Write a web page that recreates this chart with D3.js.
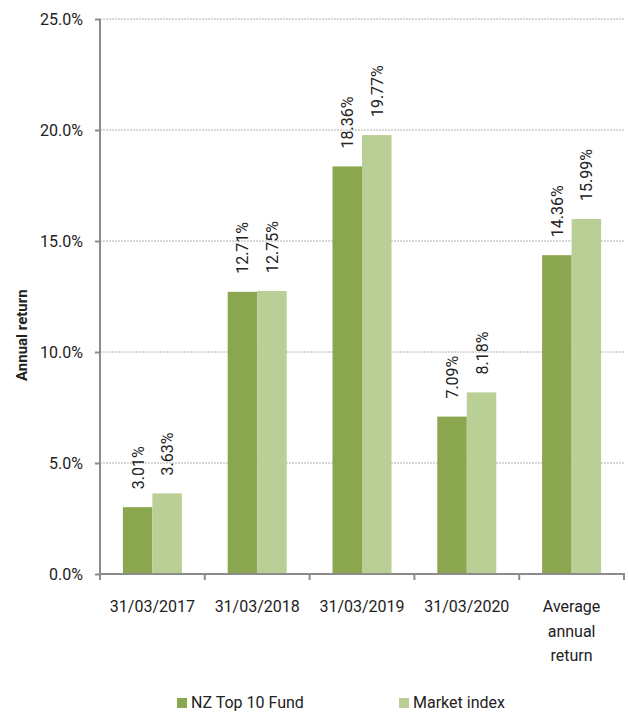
<!DOCTYPE html>
<html>
<head>
<meta charset="utf-8">
<script src="https://cdn.jsdelivr.net/npm/d3@7"></script>
<style>
body{margin:0;background:#fff;}
text{font-family:Roboto,"Noto Sans",sans-serif;fill:#222;}
</style>
</head>
<body>
<div id="chart"></div>
<script>
var categories = ["31/03/2017","31/03/2018","31/03/2019","31/03/2020","Average annual return"];
var catLines = [["31/03/2017"],["31/03/2018"],["31/03/2019"],["31/03/2020"],["Average","annual","return"]];
var seriesNames = ["NZ Top 10 Fund","Market index"];
var fundValues = [3.01,12.71,18.36,7.09,14.36];
var marketValues = [3.63,12.75,19.77,8.18,15.99];
var yTicks = [0,5,10,15,20,25];

var width = 628, height = 712;
var plotLeft = 100, plotRight = 624, plotTop = 19, plotBottom = 574;
var colors = ["#8aa64f","#bacf96"];

var svg = d3.select("#chart").append("svg")
    .attr("width",width)
    .attr("height",height);

var y = d3.scaleLinear().domain([0,25]).range([plotBottom,plotTop]);
var x = d3.scaleBand().domain(categories).range([plotLeft,plotRight]).paddingInner(0.437).paddingOuter(0.2185);
var xs = d3.scaleBand().domain([0,1]).range([0,x.bandwidth()]);

// grid
svg.selectAll("line.grid")
    .data(yTicks.slice(1))
    .enter().append("line")
    .attr("class","grid")
    .attr("x1",plotLeft).attr("x2",plotRight)
    .attr("y1",function(d){return y(d);}).attr("y2",function(d){return y(d);})
    .attr("stroke","#b0b0b0")
    .attr("stroke-width",1)
    .attr("stroke-dasharray","2,1");

// bars
var data = [];
for(var i=0;i<categories.length;i++){
    data.push({cat:categories[i],s:0,v:fundValues[i]});
    data.push({cat:categories[i],s:1,v:marketValues[i]});
}
svg.selectAll("rect.bar")
    .data(data)
    .enter().append("rect")
    .attr("x",function(d){return x(d.cat)+xs(d.s);})
    .attr("y",function(d){return y(d.v);})
    .attr("width",xs.bandwidth())
    .attr("height",function(d){return plotBottom-y(d.v);})
    .attr("fill",function(d){return colors[d.s];});

// value labels
svg.selectAll("text.val")
    .data(data)
    .enter().append("text")
    .attr("transform",function(d){
        var cx = x(d.cat)+xs(d.s)+xs.bandwidth()/2;
        return "translate("+(cx+6)+","+(y(d.v)-18)+") rotate(-90)";
    })
    .attr("font-size","16px")
    .text(function(d){return d.v.toFixed(2)+"%";});

// y axis
var yAxis = d3.axisLeft(y).tickValues(yTicks).tickSize(5).tickFormat(function(d){return d.toFixed(1)+"%";});
var gy = svg.append("g").attr("transform","translate("+plotLeft+",0)").call(yAxis);
gy.select(".domain").attr("stroke","#8c8c8c").attr("stroke-width",2).attr("d","M0,"+plotTop+"V"+plotBottom);
gy.selectAll(".tick line").attr("stroke","#8c8c8c").attr("stroke-width",2);
gy.selectAll(".tick text").attr("font-size","16px").attr("font-family","Roboto").attr("fill","#222").attr("x",-17);

// x axis
svg.append("line")
    .attr("x1",plotLeft-1).attr("x2",plotRight+1)
    .attr("y1",plotBottom).attr("y2",plotBottom)
    .attr("stroke","#8c8c8c").attr("stroke-width",2);
var bounds = categories.map(function(c){return x(c)-x.step()*x.paddingInner()/2;});
bounds.push(plotRight);
svg.selectAll("line.xtick")
    .data(bounds)
    .enter().append("line")
    .attr("x1",function(d){return d;}).attr("x2",function(d){return d;})
    .attr("y1",plotBottom).attr("y2",plotBottom+6)
    .attr("stroke","#8c8c8c").attr("stroke-width",2);

var xl = svg.selectAll("text.xl")
    .data(categories)
    .enter().append("text")
    .attr("text-anchor","middle")
    .attr("font-size","16px")
    .attr("x",function(d){return x(d)+x.bandwidth()/2;})
    .attr("y",612);
xl.each(function(d,i){
    var t = d3.select(this);
    catLines[i].forEach(function(l,j){
        t.append("tspan").attr("x",x(d)+x.bandwidth()/2).attr("dy",j==0?0:24.5).text(l);
    });
});

// y title
svg.append("text")
    .attr("transform","translate(27,381) rotate(-90)")
    .attr("text-anchor","start")
    .attr("font-size","15px")
    .attr("font-weight","bold")
    .text("Annual return");

// legend
var legendX = [177,399];
var lg = svg.selectAll("g.legend")
    .data(seriesNames)
    .enter().append("g")
    .attr("transform",function(d,i){return "translate("+legendX[i]+",698)";});
lg.append("rect").attr("width",10).attr("height",10).attr("fill",function(d,i){return colors[i];});
lg.append("text").attr("x",14).attr("y",10).attr("font-size","16px").text(function(d){return d;});
</script>
</body>
</html>
